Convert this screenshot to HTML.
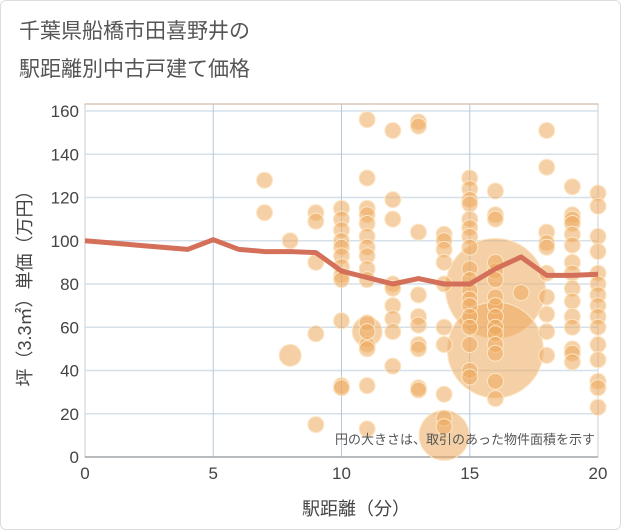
<!DOCTYPE html>
<html><head><meta charset="utf-8"><style>
body{margin:0;background:#fff;font-family:"Liberation Sans","Noto Sans CJK JP",sans-serif;}
#card{position:absolute;left:0;top:0;width:619px;height:528px;border:1px solid #ddd;border-radius:6px;background:#fff;}
.t{position:absolute;left:18px;font-size:21px;color:#555;}
</style></head><body>
<div id="card">
<div class="t" style="top:14px">千葉県船橋市田喜野井の</div>
<div class="t" style="top:52px">駅距離別中古戸建て価格</div>
<svg width="621" height="530" style="position:absolute;left:0;top:0" id="svg"></svg>
</div>
<script>
const lineX=[0,1,2,3,4,5,6,7,8,9,10,11,12,13,14,15,16,17,18,19,20];
const lineY=[100,99,98,97,96,100.5,96,95,95,94.5,86,83,80,82.5,80,80,87,92.5,84,84,84.5];
const bubX=[7,7,8,9,9,9,9,9,10,10,10,10,10,10,10,10,10,10,10,10,
11,11,11,11,11,11,11,11,11,11,11,11,11,11,11,11,
12,12,12,12,12,12,12,12,12,13,13,13,13,13,13,13,13,13,13,
14,14,14,14,14,14,14,14,14,14,
15,15,15,15,15,15,15,15,15,15,15,15,15,15,15,15,15,15,
16,16,16,16,16,16,16,16,16,16,16,16,16,16,16,17,
18,18,18,18,18,18,18,18,18,18,
19,19,19,19,19,19,19,19,19,19,19,19,19,19,19,
20,20,20,20,20,20,20,20,20,20,20,20,20,20,20];
const bubY=[128,113,100,113,109,90,57,15,115,110,105,100,97,93,88,84,82,63,33,32,
156,129,115,112,108,102,97,93,87,82,62,52,50,33,13,58,
151,119,110,80,78,70,64,58,42,155,153,104,75,65,61,52,50,32,31,
103,100,96,90,80,60,52,29,18,14,
129,124,119,117,110,106,102,97,87,82,77,73,70,65,60,52,40,37,
123,112,110,86,82,74,70,65,60,57,52,48,35,27,90,76,
151,134,104,99,97,85,74,66,58,47,
125,112,110,108,103,98,90,85,78,72,65,60,50,48,44,
122,116,102,95,85,80,75,70,65,60,52,45,35,32,23];
const bigX=[16,16,14,8,11];
const bigY=[78,49.5,10,47,58];
const bigR=[50,48,25,11,15];
const yTicks=[0,20,40,60,80,100,120,140,160];
const xTicks=[0,5,10,15,20];
const L=84,R=597,T=103,B=456;
const sx=v=>L+v*(R-L)/20, sy=v=>B-v*(B-110)/160;
const svg=document.getElementById('svg');const NS='http://www.w3.org/2000/svg';
function mk(t,a,p){const e=document.createElementNS(NS,t);for(const k in a)e.setAttribute(k,a[k]);(p||svg).appendChild(e);return e;}
let e;
e=mk('rect',{x:L,y:T,width:R-L,height:B-T,fill:'none',stroke:'#ccc'});


e=mk('line',{x1:L,y1:T,x2:R,y2:T,stroke:'#c8a890'});


yTicks.forEach(v=>{
 e=mk('line',{x1:L,y1:sy(v),x2:R,y2:sy(v),stroke:'#d5e0ea','stroke-width':1.5});
 
 
 e=mk('text',{x:L-6,y:sy(v)+6,'text-anchor':'end','font-size':17,fill:'#444'});e.textContent=v;
 
 
});
xTicks.forEach(v=>{
 if(v>0&&v<20){e=mk('line',{x1:sx(v),y1:T,x2:sx(v),y2:B,stroke:'#b8c8d8','stroke-width':1});
 
 }
 e=mk('text',{x:sx(v),y:B+22,'text-anchor':'middle','font-size':17,fill:'#444'});e.textContent=v;
 
 
});
e=mk('line',{x1:L,y1:B,x2:R,y2:B,stroke:'#888'});


const g=mk('g',{});


bigX.forEach((x,i)=>{e=mk('circle',{cx:sx(x),cy:sy(bigY[i]),r:bigR[i],fill:'rgba(236,170,95,0.55)',stroke:'#fde6c4','stroke-width':1},g);
 
 });
bubX.forEach((x,i)=>{e=mk('circle',{cx:sx(x),cy:sy(bubY[i]),r:8,fill:'rgba(236,170,95,0.55)',stroke:'#fde6c4','stroke-width':1},g);
 
 });
e=mk('polyline',{points:lineX.map((x,i)=>sx(x)+','+sy(lineY[i])).join(' '),fill:'none',stroke:'#d4705a','stroke-width':5,'stroke-linejoin':'round'});


e=mk('text',{x:594,y:443,'text-anchor':'end','font-size':13,fill:'#555'});e.textContent='円の大きさは、取引のあった物件面積を示す';


e=mk('text',{x:355,y:514,'text-anchor':'middle','font-size':18,fill:'#444'});e.textContent='駅距離（分）';


e=mk('text',{x:0,y:0,'text-anchor':'middle','font-size':18,fill:'#444',transform:'translate(30,283) rotate(-90)'});e.textContent='坪（3.3㎡）単価（万円）';


</script>
</body></html>
